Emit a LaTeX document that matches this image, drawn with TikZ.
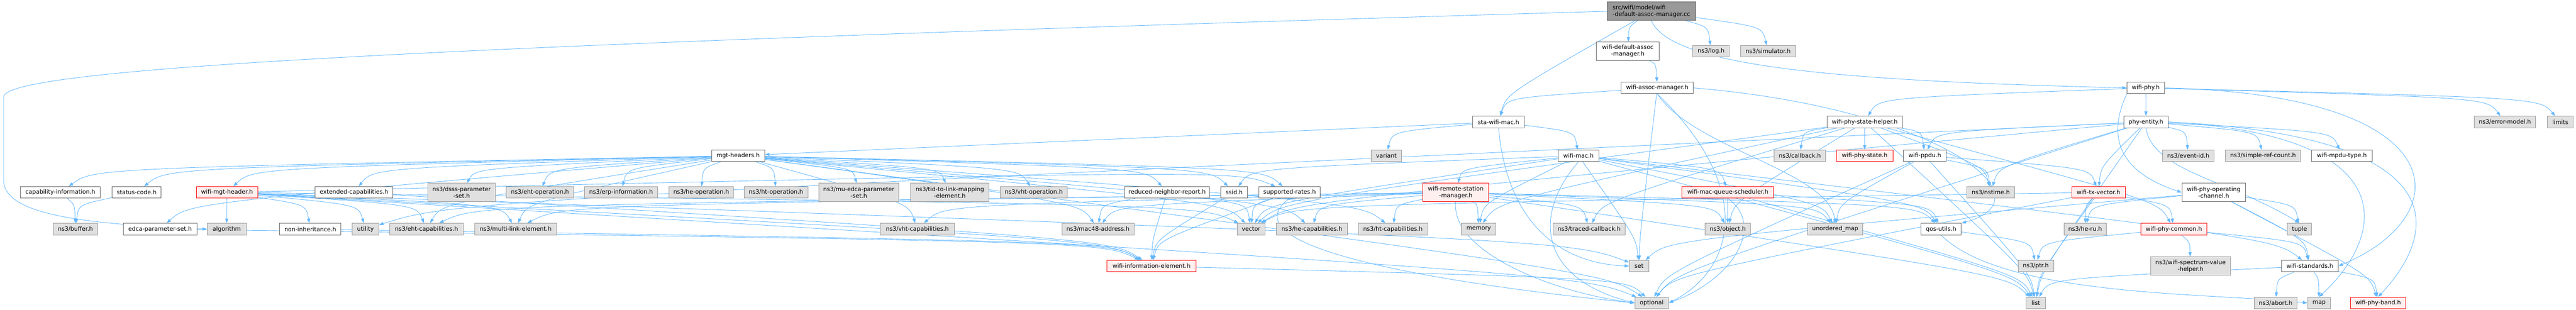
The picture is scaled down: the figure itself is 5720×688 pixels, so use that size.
\documentclass[tikz,border=0pt]{standalone}
\usepackage{fontspec}
\setmainfont{DejaVu Sans}
\usetikzlibrary{arrows.meta,backgrounds,calc}
\definecolor{eblue}{HTML}{63B8FF}
\definecolor{bgray}{HTML}{999999}
\definecolor{dgray}{HTML}{666666}
\definecolor{lgray}{HTML}{E0E0E0}
\definecolor{pinkf}{HTML}{FFF0F0}
\definecolor{bred}{HTML}{FF0000}
\tikzset{
  nodebox/.style={rectangle, line width=1.1pt, inner xsep=1pt, inner ysep=0pt, align=center,
    font=\fontsize{13pt}{15pt}\selectfont, text=black, minimum height=25.6pt},
  twoline/.style={minimum height=40.6pt},
  wb/.style={nodebox, draw=dgray, fill=white},
  gb/.style={nodebox, draw=bgray, fill=lgray},
  rb/.style={nodebox, draw=bred, fill=pinkf},
  tb/.style={nodebox, draw=dgray, fill=bgray, align=left, minimum height=41pt},
  dep/.style={draw=eblue, line width=1pt, -{Triangle[length=10pt,width=7pt]}},
}
\newcommand{\myedge}[2]{\draw[dep] (#1) .. controls ($(#2)!0.05!(#1)+(0,-50)$) .. (#2);}
\begin{document}
\begin{tikzpicture}[x=1pt,y=-1pt]
\useasboundingbox (0,0) rectangle (5720,688);
% row 0
\node[tb,minimum width=196pt] (top) at (3667,25) {src/wifi/model/wifi\\-default-assoc-manager.cc};
% row 1
\node[wb,twoline,minimum width=139pt] (wdam) at (3614.5,113.6) {wifi-default-assoc\\-manager.h};
\node[gb,minimum width=81pt] (log) at (3799.5,114) {ns3/log.h};
\node[gb,minimum width=122pt] (sim) at (3926,114) {ns3/simulator.h};
% row 2
\node[wb,minimum width=160pt] (wam) at (3680,195.3) {wifi-assoc-manager.h};
\node[wb,minimum width=83pt] (wphy) at (4764.5,195.3) {wifi-phy.h};
% row 3
\node[wb,minimum width=115pt] (sta) at (3327.5,271) {sta-wifi-mac.h};
\node[wb,minimum width=167pt] (helper) at (4140.5,271) {wifi-phy-state-helper.h};
\node[wb,minimum width=98pt] (pent) at (4765,271) {phy-entity.h};
\node[gb,minimum width=136pt] (errm) at (5562,271) {ns3/error-model.h};
\node[gb,minimum width=58pt] (limits) at (5685,271) {limits};
% row 4
\node[wb,minimum width=118pt] (mgt) at (1639,346) {mgt-headers.h};
\node[gb,minimum width=67pt] (variant) at (3078.5,346) {variant};
\node[wb,minimum width=90pt] (wmac) at (3505,346) {wifi-mac.h};
\node[gb,minimum width=115pt] (cb) at (3996.5,346) {ns3/callback.h};
\node[rb,minimum width=125pt] (wpstate) at (4140.5,346) {wifi-phy-state.h};
\node[wb,minimum width=94pt] (ppdu) at (4274,346) {wifi-ppdu.h};
\node[gb,minimum width=114pt] (evid) at (4859,346) {ns3/event-id.h};
\node[gb,minimum width=168pt] (srcnt) at (5025,346) {ns3/simple-ref-count.h};
\node[wb,minimum width=134pt] (mpdu) at (5200,346) {wifi-mpdu-type.h};
% row 5
\node[wb,minimum width=178pt] (capinfo) at (134,427.4) {capability-information.h};
\node[wb,minimum width=109pt] (status) at (303.5,427.4) {status-code.h};
\node[rb,minimum width=136pt] (mgth) at (504,427.4) {wifi-mgt-header.h};
\node[wb,minimum width=172pt] (extcap) at (786,427.4) {extended-capabilities.h};
\node[gb,twoline,minimum width=150pt] (dsss) at (1025,427.5) {ns3/dsss-parameter\\-set.h};
\node[gb,minimum width=150pt] (ehtop) at (1199,427.4) {ns3/eht-operation.h};
\node[gb,minimum width=162pt] (erp) at (1379,427.4) {ns3/erp-information.h};
\node[gb,minimum width=144pt] (heop) at (1557,427.4) {ns3/he-operation.h};
\node[gb,minimum width=142pt] (htop) at (1723,427.4) {ns3/ht-operation.h};
\node[gb,twoline,minimum width=178pt] (muedca) at (1907,427.5) {ns3/mu-edca-parameter\\-set.h};
\node[gb,twoline,minimum width=174pt] (tid) at (2109,427.5) {ns3/tid-to-link-mapping\\-element.h};
\node[gb,minimum width=149pt] (vhtop) at (2295.5,427.4) {ns3/vht-operation.h};
\node[wb,minimum width=189pt] (rnr) at (2591.5,427.4) {reduced-neighbor-report.h};
\node[wb,minimum width=59pt] (ssid) at (2740.5,427.4) {ssid.h};
\node[wb,minimum width=137pt] (srates) at (2863.5,427.4) {supported-rates.h};
\node[rb,twoline,minimum width=147pt] (wrsm) at (3232.5,427.5) {wifi-remote-station\\-manager.h};
\node[rb,minimum width=203pt] (wmqs) at (3836.5,427.4) {wifi-mac-queue-scheduler.h};
\node[gb,minimum width=107pt] (nstime) at (4420.5,427.4) {ns3/nstime.h};
\node[rb,minimum width=119pt] (txv) at (4659.5,427.4) {wifi-tx-vector.h};
\node[wb,twoline,minimum width=141pt] (opch) at (4915.5,427.5) {wifi-phy-operating\\-channel.h};
% row 6
\node[gb,minimum width=99pt] (buffer) at (167.5,509) {ns3/buffer.h};
\node[wb,minimum width=163pt] (edca) at (355.5,509) {edca-parameter-set.h};
\node[gb,minimum width=87pt] (algo) at (503.5,509) {algorithm};
\node[wb,minimum width=136pt] (noninh) at (689,509) {non-inheritance.h};
\node[gb,minimum width=59pt] (utility) at (811.5,509) {utility};
\node[gb,minimum width=164pt] (ehtcap) at (947,509) {ns3/eht-capabilities.h};
\node[gb,minimum width=182pt] (mle) at (1145,509) {ns3/multi-link-element.h};
\node[gb,minimum width=164pt] (vhtcap) at (2037,509) {ns3/vht-capabilities.h};
\node[gb,minimum width=160pt] (mac48) at (2438,509) {ns3/mac48-address.h};
\node[gb,minimum width=62pt] (vector) at (2778,509) {vector};
\node[gb,minimum width=158pt] (hecap) at (2913,509) {ns3/he-capabilities.h};
\node[gb,minimum width=154pt] (htcap) at (3093,509) {ns3/ht-capabilities.h};
\node[gb,minimum width=77pt] (memory) at (3283.5,509) {memory};
\node[gb,minimum width=161pt] (tcb) at (3528.5,509) {ns3/traced-callback.h};
\node[gb,minimum width=101pt] (object) at (3836.5,509) {ns3/object.h};
\node[gb,minimum width=122pt] (umap) at (4075,509) {unordered\_map};
\node[wb,minimum width=90pt] (qos) at (4310,509) {qos-utils.h};
\node[gb,minimum width=94pt] (heru) at (4630,509) {ns3/he-ru.h};
\node[rb,minimum width=146pt] (wpc) at (4827,509) {wifi-phy-common.h};
\node[gb,minimum width=54pt] (tuple) at (5106,509) {tuple};
% row 7
\node[rb,minimum width=198pt] (wie) at (2557,591) {wifi-information-element.h};
\node[gb,minimum width=43pt] (set) at (3639.5,591) {set};
\node[gb,minimum width=79pt] (ptr) at (4520.5,591) {ns3/ptr.h};
\node[gb,twoline,minimum width=178pt] (wsvh) at (4864,591) {ns3/wifi-spectrum-value\\-helper.h};
\node[wb,minimum width=126pt] (wstd) at (5129,591) {wifi-standards.h};
% row 8
\node[gb,minimum width=75pt] (optional) at (3667.5,673) {optional};
\node[gb,minimum width=43pt] (list) at (4520.5,673) {list};
\node[gb,minimum width=94pt] (abort) at (5053,673) {ns3/abort.h};
\node[gb,minimum width=51pt] (map) at (5149.5,673) {map};
\node[rb,minimum width=123pt] (band) at (5280.5,673) {wifi-phy-band.h};

\begin{scope}[on background layer]
\fill[white] (0,0) rectangle (5720,688);
% top node
\draw[dep] (top.west) .. controls (1000,100) and (15,150) .. (8,215) -- (8,400) .. controls (8,480) and (200,498) .. (algo.west);
\foreach \t in {wdam,sta,log,sim} {\myedge{top}{\t}}
\draw[dep] (top.south) .. controls (3710,150) and (4100,180) .. (wphy.west);
\myedge{wdam}{wam}
% wifi-assoc-manager
\foreach \t in {sta,set} {\myedge{wam}{\t}}
\draw[dep] (wam.east) .. controls (4300,240) and (4560,440) .. (qos.north east);
\draw[dep] (wam.south) .. controls (3760,330) and (4060,380) .. (umap.north);
\draw[dep] (wam.south) .. controls (3900,420) and (3850,600) .. (optional.east);
% sta-wifi-mac
\draw[dep] (sta) -- (mgt);
\foreach \t in {wmac,variant} {\myedge{sta}{\t}}
\draw[dep] (sta.south) .. controls (3345,480) and (3450,585) .. (set.west);
% mgt-headers
\foreach \t in {capinfo,edca,extcap,rnr,ssid,status,srates,mgth,dsss,ehtcap,ehtop,erp,hecap,heop,htcap,htop,mac48,muedca,mle,tid,vhtcap,vhtop,optional,vector}
  {\myedge{mgt}{\t}}
\foreach \t in {capinfo,status} {\myedge{\t}{buffer}}
% wifi-mgt-header
\foreach \t in {algo,noninh,utility,ehtcap,mle,srates,wie,optional,vector,set} {\myedge{mgth}{\t}}
\foreach \s in {edca,extcap,noninh,ssid} {\myedge{\s}{wie}}
\foreach \t in {mac48,wie,vector} {\myedge{rnr}{\t}}
\foreach \t in {wie,vector} {\myedge{srates}{\t}}
\draw[dep] (srates.south) .. controls (2700,560) and (3300,640) .. (optional.west);
\myedge{wie}{optional}
% wifi-mac
\foreach \t in {qos,ssid,wrsm,wstd,wmqs,list,memory,set,umap,vector} {\myedge{wmac}{\t}}
\draw[dep] (wmac.south) .. controls (3400,480) and (3420,620) .. (optional.west);
% wifi-remote-station-manager
\foreach \t in {qos,ehtcap,hecap,htcap,vhtcap,mac48,mle,object,tcb,list,memory,umap} {\myedge{wrsm}{\t}}
\draw[dep] (wrsm.south) .. controls (3220,560) and (3450,650) .. (optional.west);
% wifi-mac-queue-scheduler
\foreach \t in {object,qos,list} {\myedge{wmqs}{\t}}
\draw[dep] (wmqs.south) .. controls (3920,500) and (3850,620) .. (optional.east);
% wifi-phy
\foreach \t in {helper,pent,errm,limits} {\myedge{wphy}{\t}}
\draw[dep] (wphy.south west) .. controls (4680,300) and (4700,380) .. (opch.west);
\draw[dep] (wphy.east) .. controls (5460,210) and (5460,480) .. (wstd.east);
% wifi-phy-state-helper
\foreach \t in {cb,wpstate,ppdu,nstime,object,tcb,wpc,list,memory,vector} {\myedge{helper}{\t}}
% phy-entity
\foreach \t in {mpdu,ppdu,txv,evid,nstime,srcnt,list,optional,utility,vector} {\myedge{pent}{\t}}
\draw[dep] (pent.south) .. controls (4780,380) and (4950,400) .. (tuple.north);
\draw[dep] (pent.east) .. controls (5340,300) and (5300,520) .. (map.north);
\draw[dep] (pent.east) .. controls (5430,300) and (5430,500) .. (band.north);
% wifi-ppdu
\foreach \t in {umap,optional,list,nstime,txv} {\myedge{ppdu}{\t}}
% wifi-tx-vector
\foreach \t in {wpc,heru,list,vector,optional} {\myedge{txv}{\t}}
% operating channel
\foreach \t in {band,wstd,heru,set,tuple} {\myedge{opch}{\t}}
% wifi-phy-common
\foreach \t in {wstd,ptr,wsvh} {\myedge{wpc}{\t}}
% wifi-standards
\foreach \t in {band,abort,list,map} {\myedge{wstd}{\t}}
% qos-utils
\myedge{qos}{ptr}
\draw[dep] (qos.south) .. controls (4450,660) and (4900,650) .. (map.west);
\end{scope}
\end{tikzpicture}
\end{document}
